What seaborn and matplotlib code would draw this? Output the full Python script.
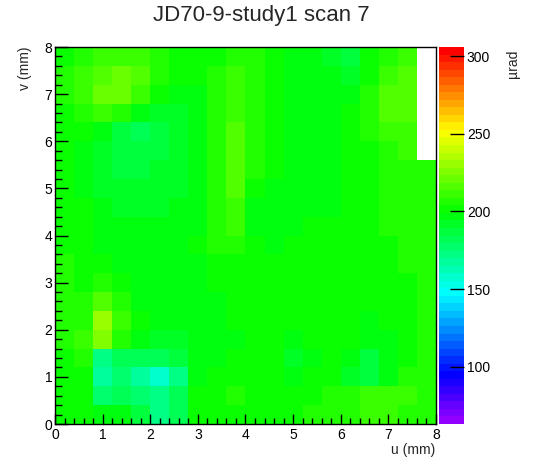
import colorsys
import numpy as np
import matplotlib
matplotlib.use('Agg')
import matplotlib.pyplot as plt
from matplotlib.colors import ListedColormap
import seaborn as sns

title = 'JD70-9-study1 scan 7'
cell_mm = 0.4
u_ticks = [0, 1, 2, 3, 4, 5, 6, 7, 8]
v_ticks = [0, 1, 2, 3, 4, 5, 6, 7, 8]
z_ticks = [100, 150, 200, 250, 300]
z_min, z_max = 63, 306
nan = np.nan

# colunas: u = 0.2, 0.6, 1.0, ..., 7.8 mm
row_v78 = [200, 205, 210, 212, 210, 205, 200, 200, 203, 207, 205, 200, 198, 197, 192, 185, 200, 208, 212, nan]
row_v74 = [205, 210, 218, 220, 215, 208, 200, 200, 205, 210, 207, 200, 198, 197, 195, 192, 202, 212, 215, nan]
row_v70 = [205, 212, 220, 222, 212, 200, 195, 198, 205, 212, 208, 200, 198, 198, 197, 197, 205, 215, 218, nan]
row_v66 = [203, 205, 210, 205, 195, 190, 192, 197, 205, 213, 208, 200, 198, 198, 198, 200, 208, 215, 215, nan]
row_v62 = [202, 200, 195, 185, 183, 188, 192, 196, 205, 215, 208, 200, 198, 198, 198, 200, 205, 212, 212, nan]
row_v58 = [202, 198, 192, 186, 186, 188, 192, 196, 206, 216, 208, 200, 198, 198, 198, 200, 203, 208, 210, nan]
row_v54 = [203, 198, 192, 188, 188, 190, 192, 196, 207, 216, 207, 200, 198, 198, 198, 200, 202, 205, 207, 205]
row_v50 = [203, 199, 194, 190, 190, 191, 193, 197, 207, 215, 200, 198, 198, 198, 198, 200, 202, 204, 206, 205]
row_v46 = [203, 200, 196, 193, 192, 193, 195, 198, 206, 213, 195, 198, 199, 199, 199, 200, 202, 204, 206, 205]
row_v42 = [203, 200, 198, 196, 195, 195, 196, 199, 205, 210, 196, 198, 199, 200, 200, 200, 202, 204, 205, 205]
row_v38 = [203, 200, 199, 198, 197, 197, 198, 200, 204, 207, 200, 199, 200, 200, 200, 200, 201, 203, 205, 205]
row_v34 = [204, 202, 200, 199, 198, 198, 198, 199, 201, 203, 200, 200, 200, 200, 200, 200, 200, 202, 204, 205]
row_v30 = [204, 203, 205, 200, 198, 197, 197, 198, 200, 200, 200, 200, 200, 200, 200, 200, 200, 201, 203, 205]
row_v26 = [204, 205, 215, 205, 198, 196, 196, 197, 199, 200, 200, 200, 200, 200, 200, 200, 200, 201, 203, 205]
row_v22 = [204, 208, 232, 210, 200, 196, 195, 196, 198, 200, 200, 200, 200, 200, 200, 200, 199, 200, 203, 205]
row_v18 = [204, 210, 226, 205, 198, 193, 193, 195, 197, 199, 200, 200, 199, 200, 200, 200, 195, 198, 203, 205]
row_v14 = [203, 205, 170, 182, 183, 181, 186, 195, 198, 200, 200, 200, 193, 198, 200, 197, 188, 195, 202, 205]
row_v10 = [203, 203, 166, 175, 168, 160, 172, 195, 200, 201, 200, 200, 195, 200, 200, 192, 187, 198, 205, 206]
row_v06 = [203, 203, 178, 182, 175, 170, 183, 200, 203, 204, 203, 202, 202, 203, 205, 208, 210, 212, 210, 206]
row_v02 = [203, 203, 198, 195, 186, 174, 180, 200, 202, 203, 203, 203, 203, 205, 207, 208, 209, 210, 208, 206]

grid = np.array([row_v78, row_v74, row_v70, row_v66, row_v62, row_v58, row_v54,
                 row_v50, row_v46, row_v42, row_v38, row_v34, row_v30, row_v26,
                 row_v22, row_v18, row_v14, row_v10, row_v06, row_v02])

# Paleta estilo ROOT (50 cores, violeta -> vermelho)
hues = [280 - (i + 1) * 5.6 for i in range(50)]
cmap = ListedColormap([colorsys.hls_to_rgb(h / 360, 0.5, 1) for h in hues])

sns.set_theme(style='white')
plt.rcParams['font.family'] = ['Liberation Sans', 'DejaVu Sans']

fig = plt.figure(figsize=(5.46, 4.72), dpi=100)
ax = fig.add_axes([55 / 546, 48 / 472, 381 / 546, 377 / 472])
cax = fig.add_axes([439 / 546, 48 / 472, 25 / 546, 377 / 472])

sns.heatmap(grid, ax=ax, cbar_ax=cax, cmap=cmap, vmin=z_min, vmax=z_max,
            xticklabels=False, yticklabels=False)
ax.set_facecolor('white')
ax.set_axisbelow(False)
cax.set_axisbelow(False)

# Eixos em mm (ticks para dentro, como no ROOT)
ax.set_xticks([u / cell_mm for u in u_ticks])
ax.set_xticklabels([str(u) for u in u_ticks])
ax.set_yticks([(8 - v) / cell_mm for v in v_ticks])
ax.set_yticklabels([str(v) for v in v_ticks], rotation=0)
ax.set_xticks(np.arange(0, 8.01, 0.2) / cell_mm, minor=True)
ax.set_yticks(np.arange(0, 8.01, 0.2) / cell_mm, minor=True)
ax.tick_params(axis='x', which='major', direction='in', length=7, width=1, labelsize=10, pad=3,
               bottom=True, top=False, colors='black')
ax.tick_params(axis='x', which='minor', direction='in', length=4, width=1, bottom=True, top=False,
               colors='black')
ax.tick_params(axis='y', which='major', direction='in', length=9, width=1, labelsize=10, pad=2,
               left=True, right=False, colors='black')
ax.tick_params(axis='y', which='minor', direction='in', length=5, width=1, left=True, right=False,
               colors='black')
for spine in ax.spines.values():
    spine.set_visible(True)
    spine.set_color('black')
    spine.set_linewidth(1)
    spine.set_zorder(5)

cbar = ax.collections[0].colorbar
cbar.set_ticks(z_ticks)
cbar.outline.set_visible(False)
cax.minorticks_off()
cax.tick_params(direction='in', length=10, width=1, labelsize=10, pad=2, right=True, colors='black')

fig.text(261 / 546, 1 - 16 / 472, title, ha='center', va='center', fontsize=16)
fig.text(25 / 546, 1 - 47 / 472, 'v (mm)', rotation=90, ha='center', va='top', fontsize=10)
fig.text(435 / 546, 1 - 450 / 472, 'u (mm)', ha='right', va='center', fontsize=10)
fig.text(513 / 546, 1 - 50 / 472, 'µrad', rotation=90, ha='center', va='top', fontsize=10)

fig.savefig('out.png', dpi=100)
